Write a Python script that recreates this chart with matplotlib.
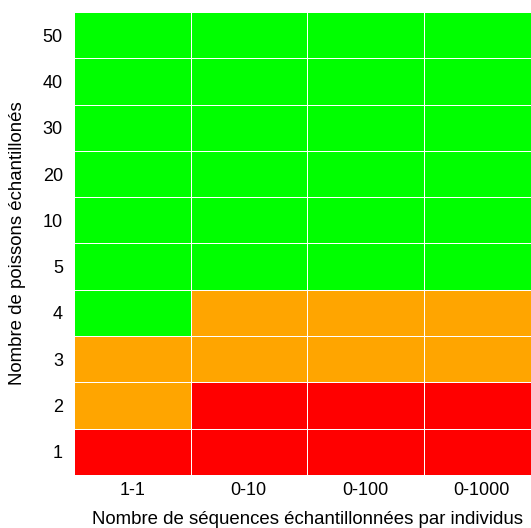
import matplotlib
matplotlib.use("Agg")
import matplotlib.pyplot as plt
from matplotlib.colors import ListedColormap
import numpy as np

plt.rcParams["font.family"] = ["Liberation Sans", "DejaVu Sans"]

# categories
seq_labels = ["1-1", "0-10", "0-100", "0-1000"]
fish_labels = ["1", "2", "3", "4", "5", "10", "20", "30", "40", "50"]

# status per row (bottom to top), per column: 0 = red, 1 = orange, 2 = green
row_1 = [0, 0, 0, 0]
row_2 = [1, 0, 0, 0]
row_3 = [1, 1, 1, 1]
row_4 = [2, 1, 1, 1]
row_5 = [2, 2, 2, 2]
row_10 = [2, 2, 2, 2]
row_20 = [2, 2, 2, 2]
row_30 = [2, 2, 2, 2]
row_40 = [2, 2, 2, 2]
row_50 = [2, 2, 2, 2]

status = np.array([row_1, row_2, row_3, row_4, row_5,
                   row_10, row_20, row_30, row_40, row_50])

cmap = ListedColormap(["#FF0000", "#FFA500", "#00FF00"])

fig = plt.figure(figsize=(5.31, 5.28), dpi=100)
ax = fig.add_axes([74 / 531, 53 / 528, 466 / 531, 463 / 528])

ax.pcolormesh(np.arange(len(seq_labels) + 1), np.arange(len(fish_labels) + 1),
              status, cmap=cmap, vmin=0, vmax=2,
              edgecolors="white", linewidth=0.6)

ax.set_xticks(np.arange(len(seq_labels)) + 0.5)
ax.set_xticklabels(seq_labels)
ax.set_yticks(np.arange(len(fish_labels)) + 0.5)
ax.set_yticklabels(fish_labels)
ax.tick_params(length=0, labelsize=13)
ax.tick_params(axis="x", pad=5)
ax.tick_params(axis="y", pad=8)
for s in ax.spines.values():
    s.set_visible(False)

ax.set_xlabel("Nombre de séquences échantillonnées par individus",
              fontsize=13.4, labelpad=9)
ax.set_ylabel("Nombre de poissons échantillonés", fontsize=13.4, labelpad=12)

fig.savefig("out.png", dpi=100, facecolor="white")
